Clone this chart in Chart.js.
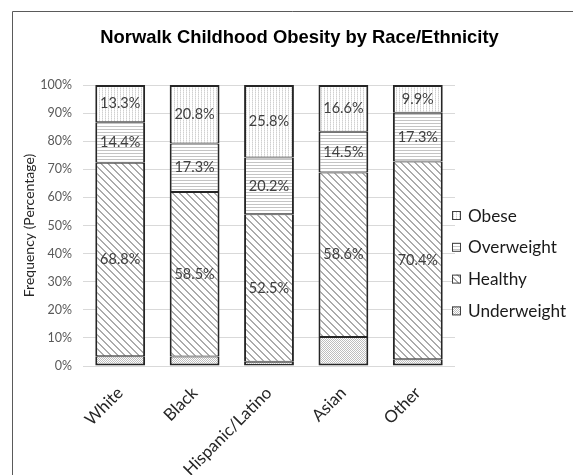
<!DOCTYPE html>
<html><head><meta charset="utf-8">
<script src="https://cdn.jsdelivr.net/npm/chart.js@4.4.1/dist/chart.umd.min.js"></script>
<style>html,body{margin:0;padding:0;background:#fff}#wrap{width:573px;height:475px;position:relative}</style>
</head><body><div id="wrap"><canvas id="c" width="573" height="475"></canvas></div>
<script>
const titleText = 'Norwalk Childhood Obesity by Race/Ethnicity';
const yAxisTitle = 'Frequency (Percentage)';
const categories = ['White', 'Black', 'Hispanic/Latino', 'Asian', 'Other'];
const seriesNames = ['Underweight', 'Healthy', 'Overweight', 'Obese'];
const underweight = [3.5, 3.4, 1.5, 10.3, 2.4];
const healthy = [68.8, 58.5, 52.5, 58.6, 70.4];
const overweight = [14.4, 17.3, 20.2, 14.5, 17.3];
const obese = [13.3, 20.8, 25.8, 16.6, 9.9];
const yTickValues = [0, 10, 20, 30, 40, 50, 60, 70, 80, 90, 100];

const FONT = 'Lato, "Open Sans", sans-serif';
const mainCtx = document.getElementById('c').getContext('2d');
function makePattern(w, h, draw) {
  const c = document.createElement('canvas');
  c.width = w; c.height = h;
  const x = c.getContext('2d');
  x.fillStyle = '#ffffff'; x.fillRect(0, 0, w, h);
  draw(x);
  return mainCtx.createPattern(c, 'repeat');
}
const patObese = makePattern(3, 2, x => { x.fillStyle = '#d0d0d0'; x.fillRect(0, 0, 1, 1); x.fillStyle = '#e6e6e6'; x.fillRect(0, 1, 1, 1); });
const patOver = makePattern(1, 3, x => { x.fillStyle = '#c4c4c4'; x.fillRect(0, 0, 1, 1); });
const patHealthy = makePattern(7, 7, x => {
  x.fillStyle = '#ababab';
  for (let yy = 0; yy < 7; yy++) for (let xx = 0; xx < 7; xx++) {
    const d = ((xx - yy) % 7 + 7) % 7;
    if (d === 0 || d === 1) x.fillRect(xx, yy, 1, 1);
  }
});
const patUnder = makePattern(2, 2, x => { x.fillStyle = '#bebebe'; x.fillRect(0, 0, 1, 1); x.fillRect(1, 1, 1, 1); });

const EDGE = '#262626';
const datasets = [
  { label: seriesNames[0], data: underweight, backgroundColor: patUnder, showLabels: false,
    borderWidth: { top: 1, bottom: 2, left: 2, right: 2 } },
  { label: seriesNames[1], data: healthy, backgroundColor: patHealthy, showLabels: true,
    borderWidth: { top: 1, bottom: 1, left: 2, right: 2 } },
  { label: seriesNames[2], data: overweight, backgroundColor: patOver, showLabels: true,
    borderWidth: { top: 1, bottom: 1, left: 2, right: 2 } },
  { label: seriesNames[3], data: obese, backgroundColor: patObese, showLabels: true,
    borderWidth: { top: 2, bottom: 1, left: 2, right: 2 } }
].map(d => Object.assign(d, { borderColor: EDGE, borderSkipped: false, categoryPercentage: 1, barPercentage: 0.67 }));

const decor = {
  id: 'decor',
  beforeDraw(chart) {
    const ctx = chart.ctx;
    ctx.save();
    ctx.fillStyle = '#fff';
    ctx.fillRect(0, 0, chart.width, chart.height);
    ctx.strokeStyle = '#5a5a5a';
    ctx.lineWidth = 1;
    ctx.beginPath();
    ctx.moveTo(12.5, chart.height);
    ctx.lineTo(12.5, 11.5);
    ctx.lineTo(chart.width, 11.5);
    ctx.stroke();
    ctx.restore();
  },
  afterDatasetsDraw(chart) {
    const ctx = chart.ctx;
    ctx.save();
    ctx.font = '14.5px ' + FONT;
    ctx.fillStyle = '#404040';
    ctx.textAlign = 'center';
    ctx.textBaseline = 'middle';
    chart.data.datasets.forEach((ds, i) => {
      if (!ds.showLabels) return;
      chart.getDatasetMeta(i).data.forEach((el, j) => {
        const p = el.getProps(['x', 'y', 'base'], true);
        ctx.fillText(ds.data[j].toFixed(1) + '%', p.x, (p.y + p.base) / 2);
      });
    });
    ctx.restore();
  },
  afterDraw(chart) {
    const ctx = chart.ctx;
    ctx.save();
    // title
    ctx.font = 'bold 18.4px "Liberation Sans", Arial, sans-serif';
    ctx.fillStyle = '#000';
    ctx.textAlign = 'center';
    ctx.textBaseline = 'middle';
    ctx.fillText(titleText, 299.5, 38);
    // legend (reverse order)
    const lx = chart.chartArea.right - 3, ly0 = 215, step = 31.8;
    const items = chart.data.datasets.slice().reverse();
    ctx.font = '17.2px ' + FONT;
    ctx.textAlign = 'left';
    items.forEach((ds, k) => {
      const cy = ly0 + k * step;
      ctx.fillStyle = ds.backgroundColor;
      ctx.fillRect(lx, cy - 4, 9, 9);
      ctx.strokeStyle = '#404040';
      ctx.lineWidth = 1;
      ctx.strokeRect(lx + 0.5, cy - 3.5, 8, 8);
      ctx.fillStyle = '#1a1a1a';
      ctx.fillText(ds.label, lx + 16, cy + 1);
    });
    ctx.restore();
  }
};

new Chart(document.getElementById('c'), {
  type: 'bar',
  data: { labels: categories, datasets },
  options: {
    responsive: false,
    animation: false,
    devicePixelRatio: 1,
    layout: { padding: { top: 85, right: 118, left: 0, bottom: 0 } },
    plugins: { legend: { display: false }, title: { display: false }, tooltip: { enabled: false } },
    scales: {
      x: {
        stacked: true,
        grid: { display: false, drawTicks: false },
        border: { display: false },
        ticks: { color: '#262626', font: { family: FONT, size: 16.8 }, minRotation: 45, maxRotation: 45, padding: 17, autoSkip: false },
        afterFit(s) { s.height = 109; }
      },
      y: {
        stacked: true,
        min: 0, max: 100,
        afterBuildTicks(s) { s.ticks = yTickValues.map(v => ({ value: v })); },
        grid: { color: '#d9d9d9', drawTicks: false, lineWidth: 1 },
        border: { display: false },
        ticks: { color: '#595959', font: { family: FONT, size: 12.5 }, padding: 11, callback: v => v + '%' },
        title: { display: true, text: yAxisTitle, color: '#262626', font: { family: FONT, size: 14 }, padding: { top: 21, bottom: 0 } },
        afterFit(s) { s.width = 83; }
      }
    }
  },
  plugins: [decor]
});
</script>
</body></html>
